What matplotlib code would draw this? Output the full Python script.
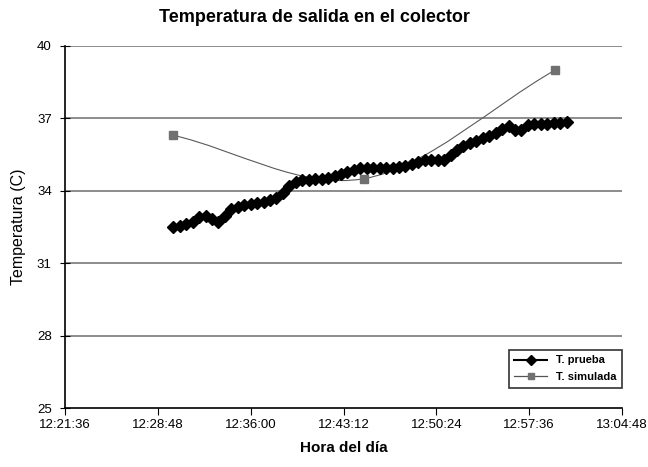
import matplotlib
matplotlib.use('Agg')
import matplotlib.pyplot as plt
from matplotlib.path import Path
from matplotlib.patches import PathPatch
from matplotlib.lines import Line2D

plt.rcParams['font.family'] = ['Liberation Sans', 'DejaVu Sans']

# Datos
inicio_prueba = "12:30:00"
paso_prueba = 30  # segundos entre lecturas
t_prueba = [32.48, 32.55, 32.64, 32.72, 32.92, 32.97, 32.82, 32.72, 32.94, 33.26,
            33.34, 33.40, 33.45, 33.49, 33.53, 33.62, 33.72, 33.90, 34.21, 34.36,
            34.45, 34.45, 34.47, 34.49, 34.55, 34.62, 34.70, 34.79, 34.87, 34.94,
            34.94, 34.94, 34.94, 34.94, 34.95, 34.98, 35.03, 35.10, 35.20, 35.28,
            35.28, 35.28, 35.28, 35.50, 35.71, 35.85, 35.98, 36.07, 36.17, 36.27,
            36.40, 36.56, 36.70, 36.52, 36.54, 36.72, 36.77, 36.77, 36.78, 36.80,
            36.83, 36.85]

horas_sim = ["12:30:00", "12:44:45", "12:59:36"]
t_simulada = [36.3, 34.5, 39.0]

ticks_x = ["12:21:36", "12:28:48", "12:36:00", "12:43:12", "12:50:24", "12:57:36", "13:04:48"]
ticks_y = [25, 28, 31, 34, 37, 40]


def a_segundos(h):
    hh, mm, ss = [int(v) for v in h.split(':')]
    return hh * 3600 + mm * 60 + ss


x0 = a_segundos(inicio_prueba)
x_prueba = [x0 + i * paso_prueba for i in range(len(t_prueba))]
x_sim = [a_segundos(h) for h in horas_sim]
x_ticks = [a_segundos(h) for h in ticks_x]

fig = plt.figure(figsize=(6.48, 4.67), dpi=100)
ax = fig.add_axes([0.1003, 0.1263, 0.8597, 0.7752])

# Rejilla horizontal
for v in ticks_y[1:]:
    ax.axhline(v, color='#6e6e6e', lw=1.1, zorder=1)

# Serie de prueba
ax.plot(x_prueba, t_prueba, color='black', lw=2.5, marker='D', markersize=6.5,
        markeredgecolor='black', zorder=3)

# Serie simulada con línea suavizada (Bezier)
p = list(zip(x_sim, t_simulada))
d = ((p[2][0] - p[0][0]) / 6, (p[2][1] - p[0][1]) / 6)
verts = [p[0],
         (p[0][0] + (p[1][0] - p[0][0]) / 3, p[0][1] + (p[1][1] - p[0][1]) / 3),
         (p[1][0] - d[0], p[1][1] - d[1]),
         p[1],
         (p[1][0] + d[0], p[1][1] + d[1]),
         (p[2][0] - (p[2][0] - p[1][0]) / 3, p[2][1] - (p[2][1] - p[1][1]) / 3),
         p[2]]
codes = [Path.MOVETO] + [Path.CURVE4] * 6
ax.add_patch(PathPatch(Path(verts, codes), fill=False, edgecolor='#5a5a5a', lw=0.8, zorder=2))
ax.plot(x_sim, t_simulada, linestyle='none', marker='s', markersize=6,
        color='#707070', zorder=4)

ax.set_xlim(x_ticks[0], x_ticks[-1])
ax.set_ylim(25, 40)
ax.set_xticks(x_ticks)
ax.set_xticklabels(ticks_x)
ax.set_yticks(ticks_y)
ax.tick_params(axis='x', direction='out', length=5, labelsize=9.5, pad=3)
ax.tick_params(axis='y', direction='inout', length=7, labelsize=9.5, pad=6)
ax.spines['right'].set_visible(False)
ax.spines['top'].set_visible(False)
ax.spines['left'].set_linewidth(1.2)
ax.spines['bottom'].set_linewidth(1.2)

fig.text(0.486, 0.962, "Temperatura de salida en el colector", fontsize=13,
         fontweight='bold', ha='center', va='center')
ax.set_xlabel("Hora del día", fontsize=11, fontweight='bold', labelpad=7)
ax.set_ylabel("Temperatura (C)", fontsize=11.5, labelpad=8)

handles = [Line2D([], [], color='black', lw=1.5, marker='D', markersize=5),
           Line2D([], [], color='#555555', lw=0.9, marker='s', markersize=5,
                  markerfacecolor='#707070', markeredgecolor='#707070')]
leg = fig.legend(handles, ["T. prueba", "T. simulada"], loc='lower right',
                 bbox_to_anchor=(0.969, 0.158), fontsize=8, frameon=True,
                 fancybox=False, edgecolor='black', handlelength=3.0,
                 borderpad=0.5, labelspacing=0.6)
for t in leg.get_texts():
    t.set_fontweight('bold')
leg.get_frame().set_linewidth(1.2)

fig.savefig('out.png', dpi=100)
